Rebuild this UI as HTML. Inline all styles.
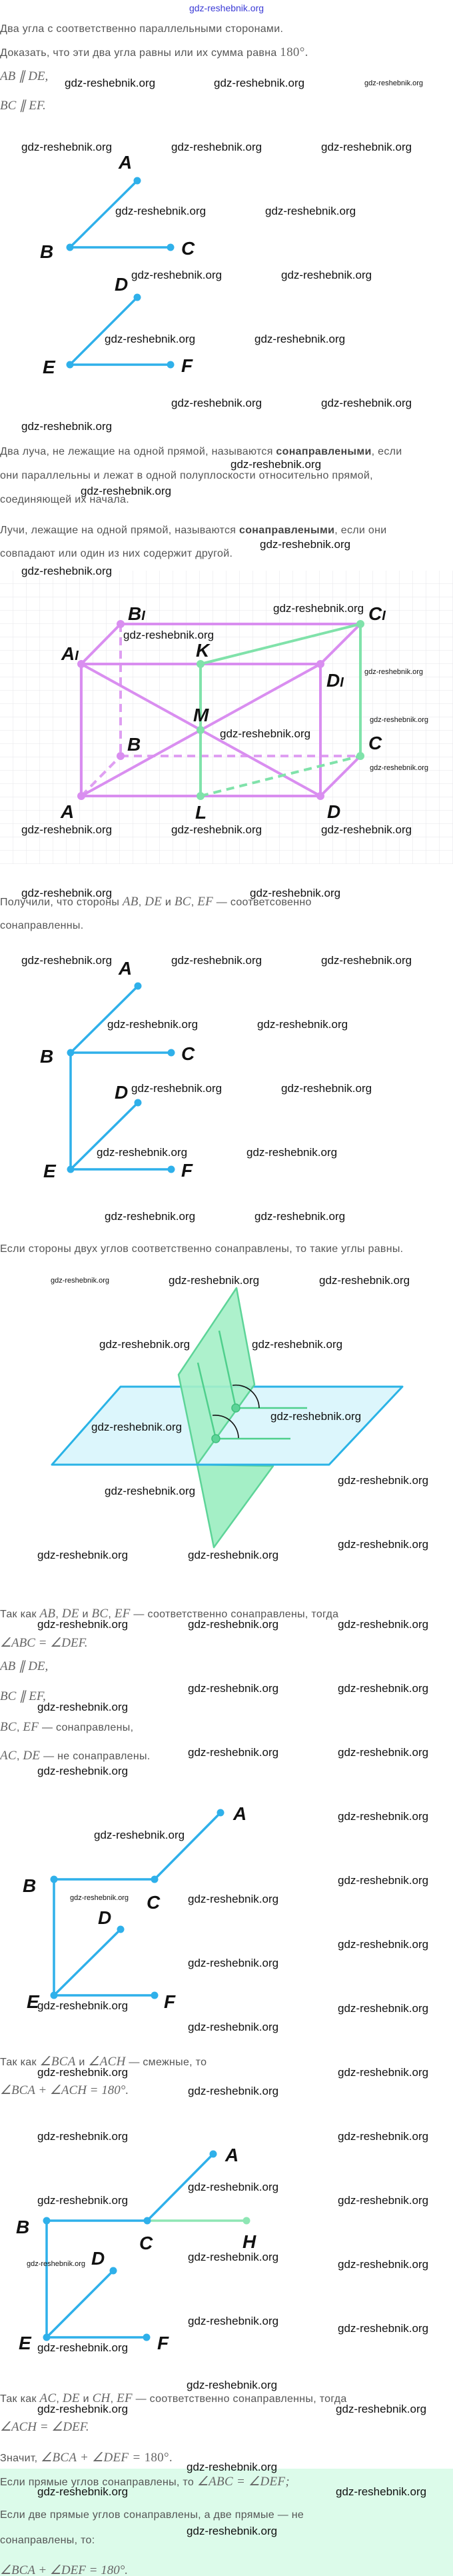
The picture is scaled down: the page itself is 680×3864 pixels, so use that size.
<!DOCTYPE html>
<html><head><meta charset="utf-8"><style>
html,body{margin:0;padding:0;background:#fff;}
svg{display:block;}
.t{font-family:"Liberation Sans","DejaVu Sans",sans-serif;font-size:16px;fill:#555;letter-spacing:0.3px;}
.b{font-weight:bold;fill:#444;}
.m{font-family:"Liberation Serif",serif;font-style:italic;font-size:19px;fill:#666;}
.mn{font-family:"Liberation Serif",serif;font-size:19px;fill:#666;}
.w{font-family:"Liberation Sans",sans-serif;font-size:17px;fill:#111;}
.ws{font-family:"Liberation Sans",sans-serif;font-size:11px;fill:#111;}
.L{font-family:"Liberation Sans Narrow","Liberation Sans",sans-serif;font-weight:bold;font-style:italic;font-size:28px;fill:#111;}
.bl{stroke:#2fb0ea;stroke-width:3.5;fill:none;stroke-linecap:round;}
.pk{stroke:#d98ef0;stroke-width:4;fill:none;}
.gr{stroke:#80e2aa;stroke-width:4;fill:none;}
</style></head><body>
<svg width="680" height="3864" viewBox="0 0 680 3864" xmlns="http://www.w3.org/2000/svg">
<defs>
<pattern id="g" x="0" y="856" width="20" height="20" patternUnits="userSpaceOnUse">
<path d="M20 0V20M0 20H20" stroke="#e6e6ea" stroke-width="1" fill="none"/>
</pattern>
</defs>
<!-- header -->
<text x="340" y="17" text-anchor="middle" font-family="Liberation Sans" font-size="14" fill="#3b3bd6">gdz-reshebnik.org</text>
<text class="t" x="0" y="48">Два угла с соответственно параллельными сторонами.</text>
<text class="t" x="0" y="84">Доказать, что эти два угла равны или их сумма равна <tspan class="mn">180°.</tspan></text>
<text class="m" x="0" y="120">AB ∥ DE,</text>
<text class="m" x="0" y="164">BC ∥ EF.</text>

<!-- fig1 -->
<g class="bl"><path d="M105 371L206 271M105 371H256M105 547L206 446M105 547H256"/></g>
<g fill="#2fb0ea"><circle cx="206" cy="271" r="5.5"/><circle cx="105" cy="371" r="5.5"/><circle cx="256" cy="371" r="5.5"/><circle cx="206" cy="446" r="5.5"/><circle cx="105" cy="547" r="5.5"/><circle cx="256" cy="547" r="5.5"/></g>
<text class="L" x="178" y="253">A</text><text class="L" x="60" y="387">B</text><text class="L" x="272" y="382">C</text>
<text class="L" x="172" y="436">D</text><text class="L" x="64" y="560">E</text><text class="L" x="272" y="558">F</text>

<text class="t" x="0" y="682">Два луча, не лежащие на одной прямой, называются <tspan class="b">сонаправлеными</tspan>, если</text>
<text class="t" x="0" y="718">они параллельны и лежат в одной полуплоскости относительно прямой,</text>
<text class="t" x="0" y="754">соединяющей их начала.</text>
<text class="t" x="0" y="800">Лучи, лежащие на одной прямой, называются <tspan class="b">сонаправлеными</tspan>, если они</text>
<text class="t" x="0" y="835">совпадают или один из них содержит другой.</text>

<!-- cube -->
<rect x="0" y="856" width="680" height="440" fill="url(#g)"/>
<g class="pk">
<path d="M181 936H541M122 996L181 936M122 996H481M481 996L541 936M122 996V1194M481 996V1194M122 1194H481M481 1194L541 1134M122 996L481 1194M122 1194L481 996"/>
<path d="M181 936V1134M181 1134H541M122 1194L181 1134" stroke-dasharray="12 8" opacity="0.85"/>
</g>
<g class="gr">
<path d="M301 996L541 936M301 996V1194M541 936V1134"/>
<path d="M301 1194L541 1134" stroke-dasharray="12 8"/>
</g>
<g fill="#d98ef0"><circle cx="181" cy="936" r="6"/><circle cx="122" cy="996" r="6"/><circle cx="481" cy="996" r="6"/><circle cx="122" cy="1194" r="6"/><circle cx="481" cy="1194" r="6"/><circle cx="181" cy="1134" r="6"/></g>
<g fill="#80e2aa"><circle cx="541" cy="936" r="6"/><circle cx="301" cy="996" r="6"/><circle cx="301" cy="1095" r="6"/><circle cx="301" cy="1194" r="6"/><circle cx="541" cy="1134" r="6"/></g>
<text class="L" x="192" y="930">B<tspan font-size="20">I</tspan></text>
<text class="L" x="553" y="930">C<tspan font-size="20">I</tspan></text>
<text class="L" x="92" y="990">A<tspan font-size="20">I</tspan></text>
<text class="L" x="294" y="985">K</text>
<text class="L" x="490" y="1030">D<tspan font-size="20">I</tspan></text>
<text class="L" x="290" y="1082">M</text>
<text class="L" x="191" y="1126">B</text>
<text class="L" x="553" y="1124">C</text>
<text class="L" x="91" y="1227">A</text>
<text class="L" x="293" y="1228">L</text>
<text class="L" x="491" y="1227">D</text>

<text class="t" x="0" y="1358">Получили, что стороны <tspan class="m">AB</tspan>, <tspan class="m">DE</tspan> и <tspan class="m">BC</tspan>, <tspan class="m">EF</tspan> — соответсовенно</text>
<text class="t" x="0" y="1393">сонаправленны.</text>

<!-- fig2 -->
<g class="bl"><path d="M106 1579L207 1479M106 1579H257M106 1579V1754M106 1754L207 1654M106 1754H257"/></g>
<g fill="#2fb0ea"><circle cx="207" cy="1479" r="5.5"/><circle cx="106" cy="1579" r="5.5"/><circle cx="257" cy="1579" r="5.5"/><circle cx="207" cy="1654" r="5.5"/><circle cx="106" cy="1754" r="5.5"/><circle cx="257" cy="1754" r="5.5"/></g>
<text class="L" x="178" y="1462">A</text><text class="L" x="60" y="1594">B</text><text class="L" x="272" y="1590">C</text>
<text class="L" x="172" y="1648">D</text><text class="L" x="65" y="1766">E</text><text class="L" x="272" y="1765">F</text>

<text class="t" x="0" y="1878">Если стороны двух углов соответственно сонаправлены, то такие углы равны.</text>

<!-- planes -->
<polygon points="181,2080 604,2080 494,2197 78,2197" fill="#dcf6fc" stroke="#2ab3e6" stroke-width="3" stroke-linejoin="round"/>
<polygon points="268,2062 355,1932 382,2077 296,2197" fill="#a4efc6" fill-opacity="0.9" stroke="#5dd498" stroke-width="2.5" stroke-linejoin="round"/>
<polygon points="296,2197 410,2199 321,2321" fill="#a4efc6" stroke="#5dd498" stroke-width="2.5" stroke-linejoin="round"/>
<path d="M78 2197H494" stroke="#2ab3e6" stroke-width="3"/>
<g stroke="#4fcf8c" stroke-width="2.5" fill="none"><path d="M297 2044L324 2158M329 1996L354 2112M354 2112H461M324 2158H436"/></g>
<g stroke="#111" stroke-width="1.6" fill="none"><path d="M349 2078A35 35 0 0 1 389 2112"/><path d="M319 2123A35 35 0 0 1 358 2157"/></g>
<g fill="#5dd498" stroke="#3fbf7c" stroke-width="1.5"><circle cx="354" cy="2112" r="6"/><circle cx="324" cy="2158" r="6"/></g>

<text class="t" x="0" y="2426">Так как <tspan class="m">AB</tspan>, <tspan class="m">DE</tspan> и <tspan class="m">BC</tspan>, <tspan class="m">EF</tspan> — соответственно сонаправлены, тогда</text>
<text class="m" x="0" y="2470">∠ABC = ∠DEF.</text>
<text class="m" x="0" y="2505">AB ∥ DE,</text>
<text class="m" x="0" y="2550">BC ∥ EF,</text>
<text class="t" x="0" y="2596"><tspan class="m">BC</tspan>, <tspan class="m">EF</tspan> — сонаправлены,</text>
<text class="t" x="0" y="2639"><tspan class="m">AC</tspan>, <tspan class="m">DE</tspan> — не сонаправлены.</text>

<!-- fig3 -->
<g class="bl"><path d="M232 2819L331 2719M81 2819H232M81 2819V2993M81 2993L181 2894M81 2993H232"/></g>
<g fill="#2fb0ea"><circle cx="331" cy="2719" r="5.5"/><circle cx="81" cy="2819" r="5.5"/><circle cx="232" cy="2819" r="5.5"/><circle cx="181" cy="2894" r="5.5"/><circle cx="81" cy="2993" r="5.5"/><circle cx="232" cy="2993" r="5.5"/></g>
<text class="L" x="350" y="2730">A</text><text class="L" x="34" y="2838">B</text><text class="L" x="220" y="2863">C</text>
<text class="L" x="147" y="2886">D</text><text class="L" x="40" y="3012">E</text><text class="L" x="246" y="3012">F</text>

<text class="t" x="0" y="3098">Так как <tspan class="m">∠BCA</tspan> и <tspan class="m">∠ACH</tspan> — смежные, то</text>
<text class="m" x="0" y="3141">∠BCA + ∠ACH = <tspan class="mn">180°.</tspan></text>

<!-- fig4 -->
<path d="M221 3331H370" stroke="#8ee6b4" stroke-width="3.5"/>
<g class="bl"><path d="M221 3331L320 3231M70 3331H221M70 3331V3506M70 3506L170 3406M70 3506H220"/></g>
<g fill="#2fb0ea"><circle cx="320" cy="3231" r="5.5"/><circle cx="70" cy="3331" r="5.5"/><circle cx="221" cy="3331" r="5.5"/><circle cx="170" cy="3406" r="5.5"/><circle cx="70" cy="3506" r="5.5"/><circle cx="220" cy="3506" r="5.5"/></g>
<circle cx="370" cy="3331" r="5.5" fill="#8ee6b4"/>
<text class="L" x="338" y="3242">A</text><text class="L" x="24" y="3350">B</text><text class="L" x="209" y="3374">C</text>
<text class="L" x="364" y="3372">H</text><text class="L" x="137" y="3397">D</text><text class="L" x="28" y="3524">E</text><text class="L" x="236" y="3524">F</text>

<text class="t" x="0" y="3603">Так как <tspan class="m">AC</tspan>, <tspan class="m">DE</tspan> и <tspan class="m">CH</tspan>, <tspan class="m">EF</tspan> — соответственно сонаправленны, тогда</text>
<text class="m" x="0" y="3646">∠ACH = ∠DEF.</text>
<text class="t" x="0" y="3692">Значит, <tspan class="m">∠BCA + ∠DEF = </tspan><tspan class="mn">180°.</tspan></text>

<rect x="0" y="3703" width="680" height="161" fill="#dcfbea"/>
<text class="t" x="0" y="3728">Если прямые углов сонаправлены, то <tspan class="m">∠ABC = ∠DEF;</tspan></text>
<text class="t" x="0" y="3777">Если две прямые углов сонаправлены, а две прямые — не</text>
<text class="t" x="0" y="3815">сонаправлены, то:</text>
<text class="m" x="0" y="3861">∠BCA + ∠DEF = <tspan class="mn">180°.</tspan></text>

<!-- watermarks -->
<g class="w">
<text x="97" y="130">gdz-reshebnik.org</text><text x="321" y="130">gdz-reshebnik.org</text>
<text x="32" y="226">gdz-reshebnik.org</text><text x="257" y="226">gdz-reshebnik.org</text><text x="482" y="226">gdz-reshebnik.org</text>
<text x="173" y="322">gdz-reshebnik.org</text><text x="398" y="322">gdz-reshebnik.org</text>
<text x="197" y="418">gdz-reshebnik.org</text><text x="422" y="418">gdz-reshebnik.org</text>
<text x="157" y="514">gdz-reshebnik.org</text><text x="382" y="514">gdz-reshebnik.org</text>
<text x="257" y="610">gdz-reshebnik.org</text><text x="482" y="610">gdz-reshebnik.org</text>
<text x="32" y="645">gdz-reshebnik.org</text>
<text x="346" y="702">gdz-reshebnik.org</text>
<text x="121" y="742">gdz-reshebnik.org</text>
<text x="390" y="822">gdz-reshebnik.org</text>
<text x="32" y="862">gdz-reshebnik.org</text>
<text x="410" y="918">gdz-reshebnik.org</text>
<text x="185" y="958">gdz-reshebnik.org</text>
<text x="330" y="1106">gdz-reshebnik.org</text>
<text x="32" y="1250">gdz-reshebnik.org</text><text x="257" y="1250">gdz-reshebnik.org</text><text x="482" y="1250">gdz-reshebnik.org</text>
<text x="32" y="1345">gdz-reshebnik.org</text><text x="375" y="1345">gdz-reshebnik.org</text>
<text x="32" y="1446">gdz-reshebnik.org</text><text x="257" y="1446">gdz-reshebnik.org</text><text x="482" y="1446">gdz-reshebnik.org</text>
<text x="161" y="1542">gdz-reshebnik.org</text><text x="386" y="1542">gdz-reshebnik.org</text>
<text x="197" y="1638">gdz-reshebnik.org</text><text x="422" y="1638">gdz-reshebnik.org</text>
<text x="145" y="1734">gdz-reshebnik.org</text><text x="370" y="1734">gdz-reshebnik.org</text>
<text x="157" y="1830">gdz-reshebnik.org</text><text x="382" y="1830">gdz-reshebnik.org</text>
<text x="253" y="1926">gdz-reshebnik.org</text><text x="479" y="1926">gdz-reshebnik.org</text>
<text x="149" y="2022">gdz-reshebnik.org</text><text x="378" y="2022">gdz-reshebnik.org</text>
<text x="406" y="2130">gdz-reshebnik.org</text><text x="137" y="2146">gdz-reshebnik.org</text>
<text x="507" y="2226">gdz-reshebnik.org</text><text x="157" y="2242">gdz-reshebnik.org</text>
<text x="507" y="2322">gdz-reshebnik.org</text><text x="56" y="2338">gdz-reshebnik.org</text><text x="282" y="2338">gdz-reshebnik.org</text>
<text x="56" y="2442">gdz-reshebnik.org</text><text x="282" y="2442">gdz-reshebnik.org</text><text x="507" y="2442">gdz-reshebnik.org</text>
<text x="282" y="2538">gdz-reshebnik.org</text><text x="507" y="2538">gdz-reshebnik.org</text>
<text x="56" y="2566">gdz-reshebnik.org</text>
<text x="282" y="2634">gdz-reshebnik.org</text><text x="507" y="2634">gdz-reshebnik.org</text>
<text x="56" y="2662">gdz-reshebnik.org</text>
<text x="507" y="2730">gdz-reshebnik.org</text>
<text x="141" y="2758">gdz-reshebnik.org</text>
<text x="507" y="2826">gdz-reshebnik.org</text><text x="282" y="2854">gdz-reshebnik.org</text>
<text x="507" y="2922">gdz-reshebnik.org</text><text x="282" y="2950">gdz-reshebnik.org</text>
<text x="56" y="3014">gdz-reshebnik.org</text><text x="507" y="3018">gdz-reshebnik.org</text>
<text x="282" y="3046">gdz-reshebnik.org</text>
<text x="56" y="3114">gdz-reshebnik.org</text><text x="507" y="3114">gdz-reshebnik.org</text>
<text x="282" y="3142">gdz-reshebnik.org</text>
<text x="56" y="3210">gdz-reshebnik.org</text><text x="507" y="3210">gdz-reshebnik.org</text>
<text x="282" y="3286">gdz-reshebnik.org</text>
<text x="56" y="3306">gdz-reshebnik.org</text><text x="507" y="3306">gdz-reshebnik.org</text>
<text x="282" y="3391">gdz-reshebnik.org</text><text x="507" y="3402">gdz-reshebnik.org</text>
<text x="282" y="3487">gdz-reshebnik.org</text><text x="507" y="3498">gdz-reshebnik.org</text>
<text x="56" y="3527">gdz-reshebnik.org</text>
<text x="280" y="3583">gdz-reshebnik.org</text>
<text x="56" y="3619">gdz-reshebnik.org</text><text x="504" y="3619">gdz-reshebnik.org</text>
<text x="280" y="3706">gdz-reshebnik.org</text>
<text x="56" y="3743">gdz-reshebnik.org</text><text x="504" y="3743">gdz-reshebnik.org</text>
<text x="280" y="3802">gdz-reshebnik.org</text>
</g>
<g class="ws">
<text x="547" y="128">gdz-reshebnik.org</text>
<text x="547" y="1011">gdz-reshebnik.org</text>
<text x="555" y="1083">gdz-reshebnik.org</text>
<text x="555" y="1155">gdz-reshebnik.org</text>
<text x="76" y="1924">gdz-reshebnik.org</text>
<text x="105" y="2850">gdz-reshebnik.org</text>
<text x="40" y="3399">gdz-reshebnik.org</text>
</g>
</svg>
</body></html>
